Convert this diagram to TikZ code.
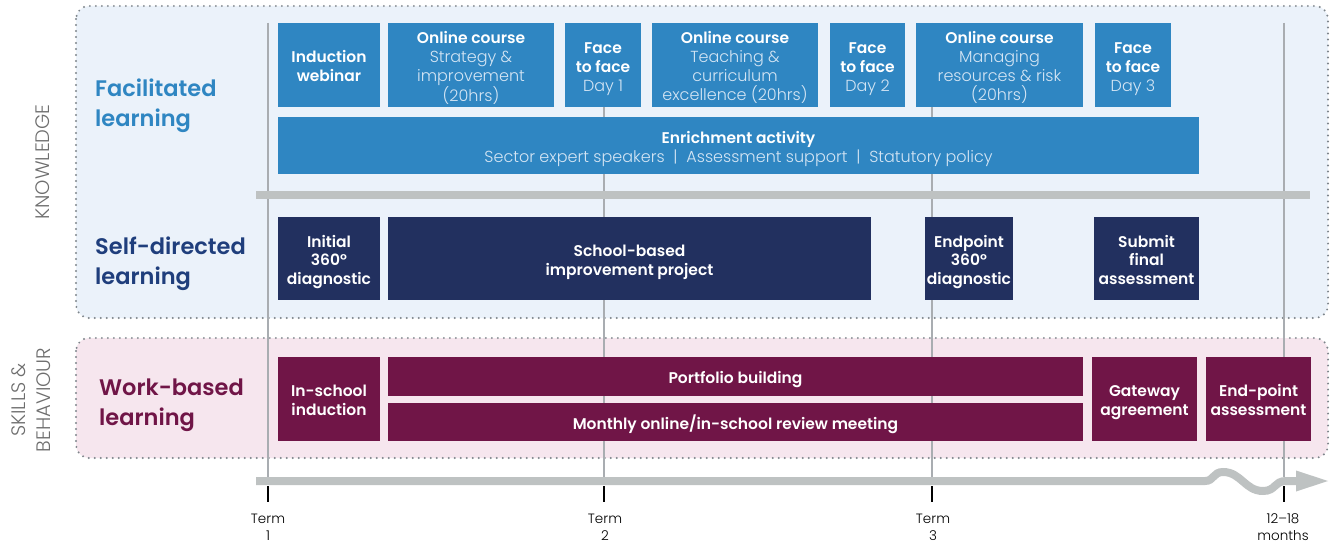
\documentclass[tikz,border=0pt]{standalone}
\usepackage{fontspec}
\setmainfont{Poppins}[UprightFont={* Light}, BoldFont={* SemiBold}]
\definecolor{kblue}{HTML}{2F86C2}
\definecolor{klight}{HTML}{D4E5F4}
\definecolor{navy}{HTML}{22305F}
\definecolor{navytext}{HTML}{1F3E7C}
\definecolor{maroon}{HTML}{701547}
\definecolor{panelblue}{HTML}{EBF2FA}
\definecolor{panelpink}{HTML}{F6E6EE}
\definecolor{dotgray}{HTML}{7E858B}
\definecolor{bargray}{HTML}{BEC2C2}
\definecolor{vlinec}{HTML}{A9ADB1}
\definecolor{sidegray}{HTML}{6E6E6E}
\newcommand\lt[1]{{\color{klight}\mdseries\fontsize{16}{19}\selectfont #1}}
\newcommand\fl{\rule{0pt}{20.5pt}}
\begin{document}
\begin{tikzpicture}[x=1pt,y=-1pt,
  panel/.style={draw=dotgray, line width=2.2pt, line cap=round, dash pattern=on 0pt off 6pt, rounded corners=13pt},
  box/.style={inner sep=0pt, outer sep=0pt, align=center, text=white, font=\bfseries\fontsize{15.5}{19}\selectfont,
    execute at end node=\strut},
  bbox/.style={box, fill=kblue},
  nbox/.style={box, fill=navy, font=\bfseries\fontsize{15.5}{18.5}\selectfont},
  mbox/.style={box, fill=maroon},
  biglabel/.style={anchor=west, align=left, inner sep=0pt, font=\bfseries\fontsize{22.5}{30}\selectfont},
  side/.style={rotate=90, align=center, text=sidegray, inner sep=0pt, font=\fontsize{19.5}{25.5}\selectfont},
  vl/.style={draw=vlinec, line width=1.3pt},
  termlab/.style={align=center, inner sep=0pt, font=\fontsize{13.5}{17}\selectfont},
  tick/.style={draw=black, line width=2pt}
]
\useasboundingbox (0,0) rectangle (1333,545);
% panels
\draw[panel, fill=panelblue] (76,6) rectangle (1328,318);
\draw[panel, fill=panelpink] (76,338) rectangle (1328,458);
% side labels
\node[side] (know) at (43,162) {KNOWLEDGE};
\node[side] (skills) at (31,400) {SKILLS \&\\BEHAVIOUR};
% vertical term lines
\foreach \x in {268,604,932,1284} \draw[vl] (\x,23) -- (\x,477);
% knowledge bar
\fill[bargray] (256,191) rectangle (1310,199);
% big labels
\node[biglabel, text=kblue] (fac) at (95,105.5) {Facilitated\\learning};
\node[biglabel, text=navytext] (self) at (95,263.5) {Self-directed\\learning};
\node[biglabel, text=maroon] (work) at (99,405) {Work-based\\learning};
% row 1
\node[bbox, minimum width=102pt, minimum height=84pt] (ind) at (329,65) {\fl Induction\\webinar};
\node[bbox, minimum width=166pt, minimum height=84pt] (oc1) at (471,65) {\fl Online course\\\lt{Strategy \&}\\\lt{improvement}\\\lt{(20hrs)}};
\node[bbox, minimum width=76pt, minimum height=84pt] (f1) at (603,65) {\fl Face\\to face\\\lt{Day 1}};
\node[bbox, minimum width=166pt, minimum height=84pt] (oc2) at (735,65) {\fl Online course\\\lt{Teaching \&}\\\lt{curriculum}\\\lt{excellence (20hrs)}};
\node[bbox, minimum width=75pt, minimum height=84pt] (f2) at (867.5,65) {\fl Face\\to face\\\lt{Day 2}};
\node[bbox, minimum width=167pt, minimum height=84pt] (oc3) at (999.5,65) {\fl Online course\\\lt{Managing}\\\lt{resources \& risk}\\\lt{(20hrs)}};
\node[bbox, minimum width=76pt, minimum height=84pt] (f3) at (1133,65) {\fl Face\\to face\\\lt{Day 3}};
\node[bbox, minimum width=921pt, minimum height=57pt] (enr) at (738.5,145.5) {\fl Enrichment activity\\\lt{Sector expert speakers \ | \ Assessment support \ | \ Statutory policy}};
% self-directed
\node[nbox, minimum width=102pt, minimum height=83pt] (init) at (329,258.5) {\fl Initial\\360°\\diagnostic};
\node[nbox, minimum width=483pt, minimum height=83pt] (sbp) at (629.5,258.5) {\fl School-based\\improvement project};
\node[nbox, minimum width=88pt, minimum height=83pt] (endp) at (969,258.5) {\fl Endpoint\\360°\\diagnostic};
\node[nbox, minimum width=105pt, minimum height=83pt] (sub) at (1146.5,258.5) {\fl Submit\\final\\assessment};
% work-based
\node[mbox, minimum width=102pt, minimum height=84pt] (insch) at (329,399) {\fl In-school\\induction};
\node[mbox, minimum width=695pt, minimum height=39pt] (port) at (735.5,376.5) {\rule{0pt}{19pt}Portfolio building};
\node[mbox, minimum width=695pt, minimum height=38pt] (month) at (735.5,422) {\rule{0pt}{20.5pt}Monthly online/in-school review meeting};
\node[mbox, minimum width=105pt, minimum height=84pt] (gate) at (1144.5,399) {\fl Gateway\\agreement};
\node[mbox, minimum width=105pt, minimum height=84pt] (epa) at (1258.5,399) {\fl End-point\\assessment};
% timeline
\draw[bargray, line width=8pt] (256,481) -- (1205,481)
  .. controls (1214,481) and (1213,472) .. (1223,472)
  .. controls (1241,472) and (1245,491) .. (1263,491)
  .. controls (1276,491) and (1274,481) .. (1286,481) -- (1299,481);
\fill[bargray] (1296,470.5) -- (1328,481) -- (1296,491.5) -- cycle;
% ticks and labels
\foreach \x in {268,604,932,1284} \draw[tick] (\x,486) -- (\x,502);
\node[termlab] (t1) at (268,527.5) {Term\\1};
\node[termlab] (t2) at (605,527.5) {Term\\2};
\node[termlab] (t3) at (933,527.5) {Term\\3};
\node[termlab] (t4) at (1283,527.5) {12–18\\months};
\end{tikzpicture}
\end{document}
